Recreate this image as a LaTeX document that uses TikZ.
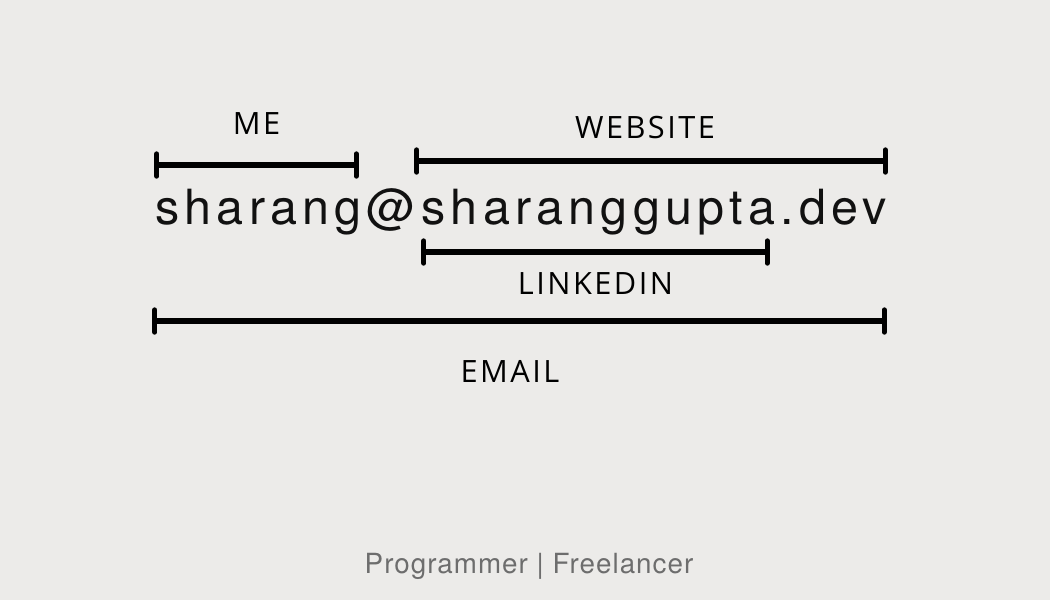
\documentclass[tikz,border=0pt]{standalone}
\usepackage{fontspec}
\setmainfont{TeX Gyre Heros}
\newfontfamily\addrfont[LetterSpace=10.8]{TeX Gyre Heros}
\newfontfamily\rolefont[LetterSpace=3.7]{TeX Gyre Heros}
\newfontfamily\handfont[LetterSpace=8]{Open Sans}
\usetikzlibrary{positioning, arrows.meta}
\definecolor{paper}{HTML}{ECEBE9}
\definecolor{ink}{HTML}{111111}
\definecolor{muted}{HTML}{6D6D6D}

\begin{document}
\begin{tikzpicture}[x=0.02cm,y=-0.02cm,
    span/.style={line width=3.1pt, {Bar[width=12.5pt,round]}-{Bar[width=12.5pt,round]}},
    tag/.style={font=\handfont\fontsize{17.5}{20}\selectfont, inner sep=0pt}]
  \fill[paper] (0,0) rectangle (1050,600);
  \useasboundingbox (0,0) rectangle (1050,600);

  \node[anchor=base west, inner sep=0pt, text=ink,
        font=\addrfont\fontsize{27.6}{30}\selectfont] (addr) at (155,224) {sharang@sharanggupta.dev};

  \coordinate (meL) at (154,165);
  \coordinate (meR) at (359,165);
  \coordinate (webL) at (414,161);
  \coordinate (webR) at (888,161);
  \coordinate (inL) at (421,252);
  \coordinate (inR) at (770,252);
  \coordinate (mailL) at (152,321);
  \coordinate (mailR) at (887,321);

  \draw[span] (meL) -- node[tag, above=0.56cm] (me) {ME} (meR);
  \draw[span] (webL) -- node[tag, above=0.38cm, xshift=-0.12cm] (web) {WEBSITE} (webR);
  \draw[span] (inL) -- node[tag, below=0.36cm] (in) {LINKEDIN} (inR);
  \draw[span] (mailL) -- node[tag, below=0.74cm, xshift=-0.19cm] (mail) {EMAIL} (mailR);

  \node[anchor=base, text=muted, font=\rolefont\fontsize{15.8}{18}\selectfont] (role) at (529,573) {Programmer | Freelancer};
\end{tikzpicture}
\end{document}
